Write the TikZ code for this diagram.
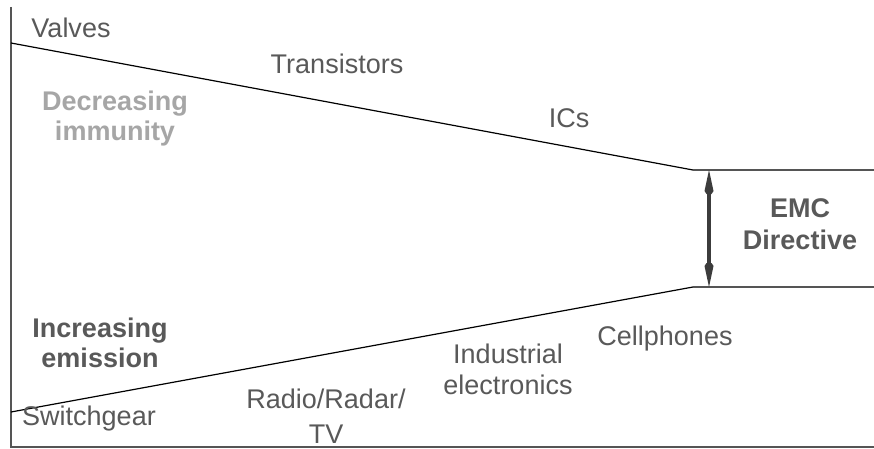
\documentclass[tikz,border=0pt]{standalone}
\usepackage{fontspec}
\setmainfont{Liberation Sans}
\definecolor{txtgray}{HTML}{595959}
\definecolor{lightgray}{HTML}{A6A6A6}
\definecolor{axisgray}{HTML}{555555}
\definecolor{arrowgray}{HTML}{3C3C3C}
\begin{document}
\begin{tikzpicture}[x=1pt,y=-1pt,
  lbl/.style={inner sep=0pt, anchor=base, text=txtgray, align=center,
    font=\fontsize{27}{31}\selectfont},
  bold lbl/.style={lbl, font=\fontsize{27}{30}\selectfont\bfseries},
  axis/.style={draw=axisgray, line width=1.4pt},
  trend/.style={draw=black, line width=1.2pt},
  limit/.style={draw=axisgray, line width=1.4pt},
  gap/.style={draw=arrowgray, line width=4.5pt},
  gaphead/.style={fill=arrowgray}]
\useasboundingbox (0,0) rectangle (874,449);
\fill[white] (0,0) rectangle (874,449);

% axes
\coordinate (axtop) at (11,7);
\coordinate (origin) at (11,447);
\coordinate (axright) at (874,447);
\draw[axis] (axtop) -- (origin) -- (axright);

% immunity and emission trends converging on the directive
\coordinate (immL) at (11,43);
\coordinate (immR) at (693,170);
\coordinate (immE) at (874,170);
\coordinate (emiL) at (11,412);
\coordinate (emiR) at (693,287);
\coordinate (emiE) at (874,287);
\draw[trend] (immL) -- (immR);
\draw[trend] (emiL) -- (emiR);
\draw[limit] (immR) -- (immE);
\draw[limit] (emiR) -- (emiE);

% the gap kept open by the directive: shaft and two heads
\coordinate (gapT) at (709,170);
\coordinate (gapB) at (709,287);
\draw[gap] ([yshift=-20pt]gapT) -- ([yshift=20pt]gapB);
\fill[gaphead] (gapT) -- ++(4.5,21) -- ++(-2,3) -- ++(-5,0) -- ++(-2,-3) -- cycle;
\fill[gaphead] (gapB) -- ++(4.5,-21) -- ++(-2,-3) -- ++(-5,0) -- ++(-2,3) -- cycle;

% technology labels
\node[lbl] (valves) at (71,38) {Valves};
\node[lbl] (trans) at (337,74) {Transistors};
\node[lbl] (ics) at (569,128) {ICs};
\node[lbl] (switch) at (89,425) {Switchgear};
\node[lbl] (radio) at (326,443) {Radio/Radar/\\[4pt]TV};
\node[lbl] (indus) at (508,394) {Industrial\\electronics};
\node[lbl] (cell) at (665,345) {Cellphones};

% trend captions
\node[bold lbl, text=lightgray] (decr) at (115,141) {Decreasing\\immunity};
\node[bold lbl] (incr) at (100,367) {Increasing\\emission};
\node[bold lbl, font=\fontsize{27}{32}\selectfont\bfseries] (emc) at (800,249) {EMC\\Directive};
\end{tikzpicture}
\end{document}
